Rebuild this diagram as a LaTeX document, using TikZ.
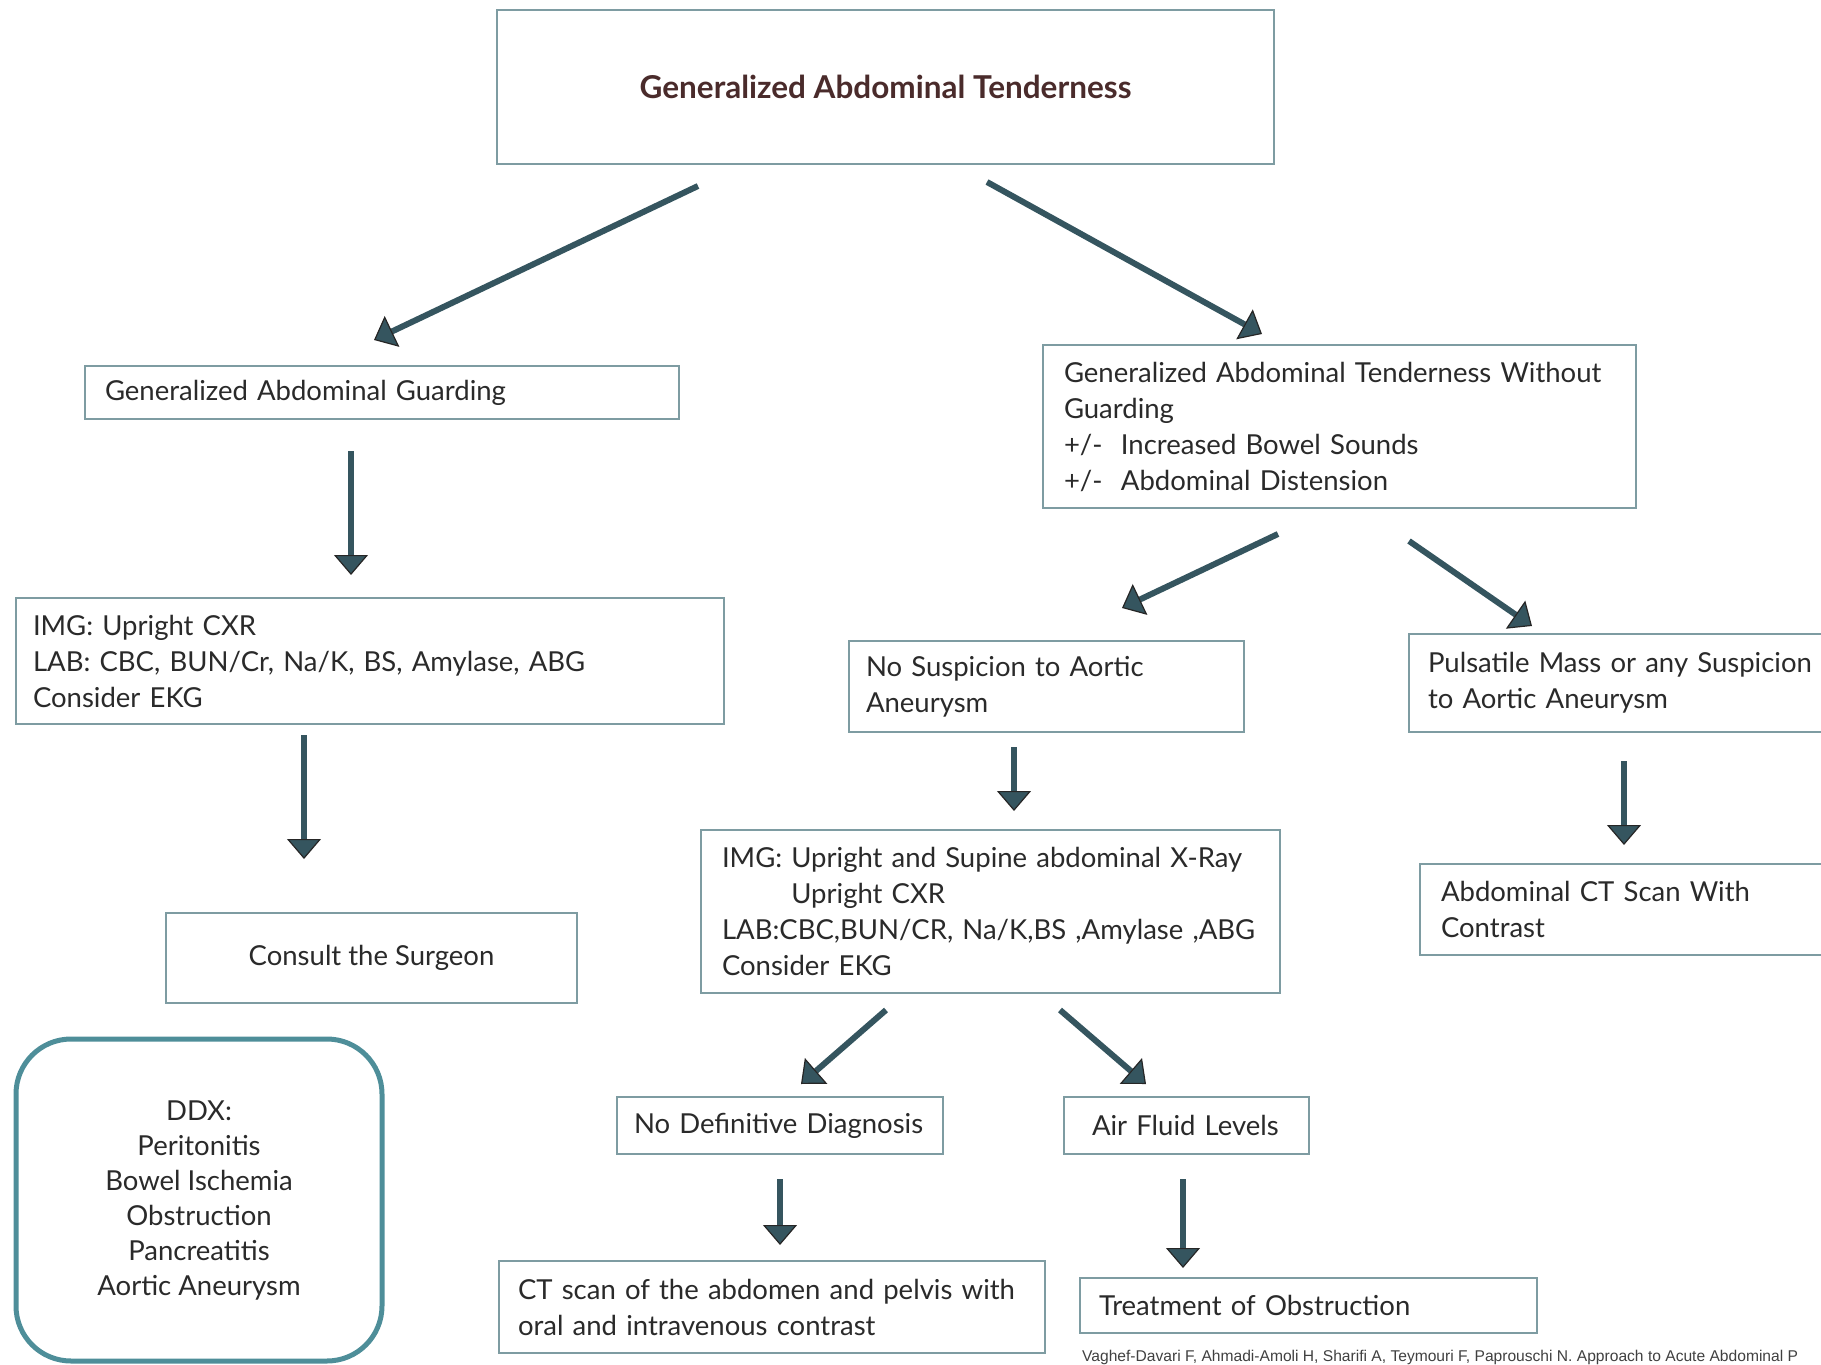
\documentclass[tikz,border=0pt]{standalone}
\usepackage{fontspec}
\setmainfont{Lato}
\newfontfamily\citefont{Liberation Sans}
\usetikzlibrary{arrows.meta,positioning}
\definecolor{boxc}{HTML}{7E9CA2}
\definecolor{arrowc}{HTML}{35555F}
\definecolor{ddxc}{HTML}{4E8E99}
\definecolor{titlec}{HTML}{4A2B2B}
\definecolor{textc}{HTML}{2A2A2A}

\begin{document}
\begin{tikzpicture}[x=1pt,y=-1pt,
	box/.style={draw=boxc,line width=1.6pt,fill=white,text=textc,
		font=\fontsize{27.5}{36}\selectfont,align=left,inner sep=0pt},
	arr/.style={draw=arrowc,line width=6pt,
		-{Triangle[length=20pt,width=34pt,line width=1.2pt,color=black!85,fill=arrowc]}}]
	\useasboundingbox (0,0) rectangle (1821,1365);
	%\draw[color=gray,step=10, help lines,opacity=0.3] (0,0) grid (1821,1365); %help grids
	% boxes
	\node[box,minimum width=777pt,minimum height=154pt,align=center,text=titlec,
		font=\fontsize{31.5}{36}\selectfont\bfseries] (title) at (885.5,87) {Generalized Abdominal Tenderness};
	\node[box,minimum width=594pt,minimum height=53pt,text width=554pt] (gag) at (382,392.5)
		{Generalized Abdominal Guarding};
	\node[box,minimum width=593pt,minimum height=163pt,text width=551pt] (gatwg) at (1339.5,426.5)
		{Generalized Abdominal Tenderness Without\\ Guarding\\ +/-\ \ Increased Bowel Sounds\\ +/-\ \ Abdominal Distension};
	\node[box,minimum width=708pt,minimum height=126pt,text width=674pt] (imgl) at (370,661)
		{IMG: Upright CXR\\ LAB: CBC, BUN/Cr, Na/K, BS, Amylase, ABG\\ Consider EKG};
	\node[box,minimum width=411pt,minimum height=90pt,align=center] (consult) at (371.5,958)
		{Consult the Surgeon};
	\node[box,draw=ddxc,line width=5pt,rounded corners=55pt,minimum width=366pt,minimum height=322pt,
		align=center,font=\fontsize{27.5}{35}\selectfont] (ddx) at (199,1200)
		{DDX:\\ Peritonitis\\ Bowel Ischemia\\ Obstruction\\ Pancreatitis\\ Aortic Aneurysm};
	\node[box,minimum width=395pt,minimum height=91pt,text width=361pt] (nosusp) at (1046.5,686.5)
		{No Suspicion to Aortic\\ Aneurysm};
	\node[box,minimum width=421pt,minimum height=98pt,text width=383pt] (puls) at (1619.5,683)
		{\mbox{Pulsatile Mass or any Suspicion}\\ to Aortic Aneurysm};
	\node[box,minimum width=410pt,minimum height=91pt,text width=368pt] (absct) at (1625,909.5)
		{Abdominal CT Scan With\\ Contrast};
	\node[box,minimum width=579pt,minimum height=163pt,text width=537pt] (imgm) at (990.5,911.5)
		{IMG: Upright and Supine abdominal X-Ray\\ \phantom{IMG: }Upright CXR\\ LAB:CBC,BUN/CR, Na/K,BS ,Amylase ,ABG\\ Consider EKG};
	\node[box,minimum width=326pt,minimum height=57pt,text width=292pt] (nodef) at (780,1125.5)
		{No Definitive Diagnosis};
	\node[box,minimum width=245pt,minimum height=57pt,text width=189pt] (air) at (1186.5,1125.5)
		{Air Fluid Levels};
	\node[box,minimum width=546pt,minimum height=92pt,text width=508pt] (ctscan) at (772,1307)
		{CT scan of the abdomen and pelvis with\\ oral and intravenous contrast};
	\node[box,minimum width=457pt,minimum height=55pt,text width=419pt] (treat) at (1308.5,1305.5)
		{Treatment of Obstruction};
	\node[anchor=west,inner sep=0pt,text=black!75,font=\citefont\fontsize{15.6}{18}\selectfont] (cite) at (1082,1357)
		{Vaghef-Davari F, Ahmadi-Amoli H, Sharifi A, Teymouri F, Paprouschi N. Approach to Acute Abdominal P};
	% arrow ends
	\coordinate (t1) at (698,186);   \coordinate (g1) at (374,340);
	\coordinate (t2) at (987,182);   \coordinate (w1) at (1262,334);
	\coordinate (g2) at (351,451);   \coordinate (l1) at (351,575);
	\coordinate (l2) at (304,735);   \coordinate (c1) at (304,859);
	\coordinate (w2) at (1278,534);  \coordinate (n1) at (1122,608);
	\coordinate (w3) at (1409,541);  \coordinate (p1) at (1532,626);
	\coordinate (n2) at (1014,747);  \coordinate (m1) at (1014,811);
	\coordinate (p2) at (1624,761);  \coordinate (a1) at (1624,845);
	\coordinate (m2) at (886,1010);  \coordinate (d1) at (801,1084);
	\coordinate (m3) at (1060,1010); \coordinate (f1) at (1146,1084);
	\coordinate (d2) at (780,1179);  \coordinate (s1) at (780,1245);
	\coordinate (f2) at (1183,1179); \coordinate (r1) at (1183,1268);
	% arrows
	\draw[arr] (t1)--(g1);
	\draw[arr] (t2)--(w1);
	\draw[arr] (g2)--(l1);
	\draw[arr] (l2)--(c1);
	\draw[arr] (w2)--(n1);
	\draw[arr] (w3)--(p1);
	\draw[arr] (n2)--(m1);
	\draw[arr] (p2)--(a1);
	\draw[arr] (m2)--(d1);
	\draw[arr] (m3)--(f1);
	\draw[arr] (d2)--(s1);
	\draw[arr] (f2)--(r1);
\end{tikzpicture}
\end{document}
